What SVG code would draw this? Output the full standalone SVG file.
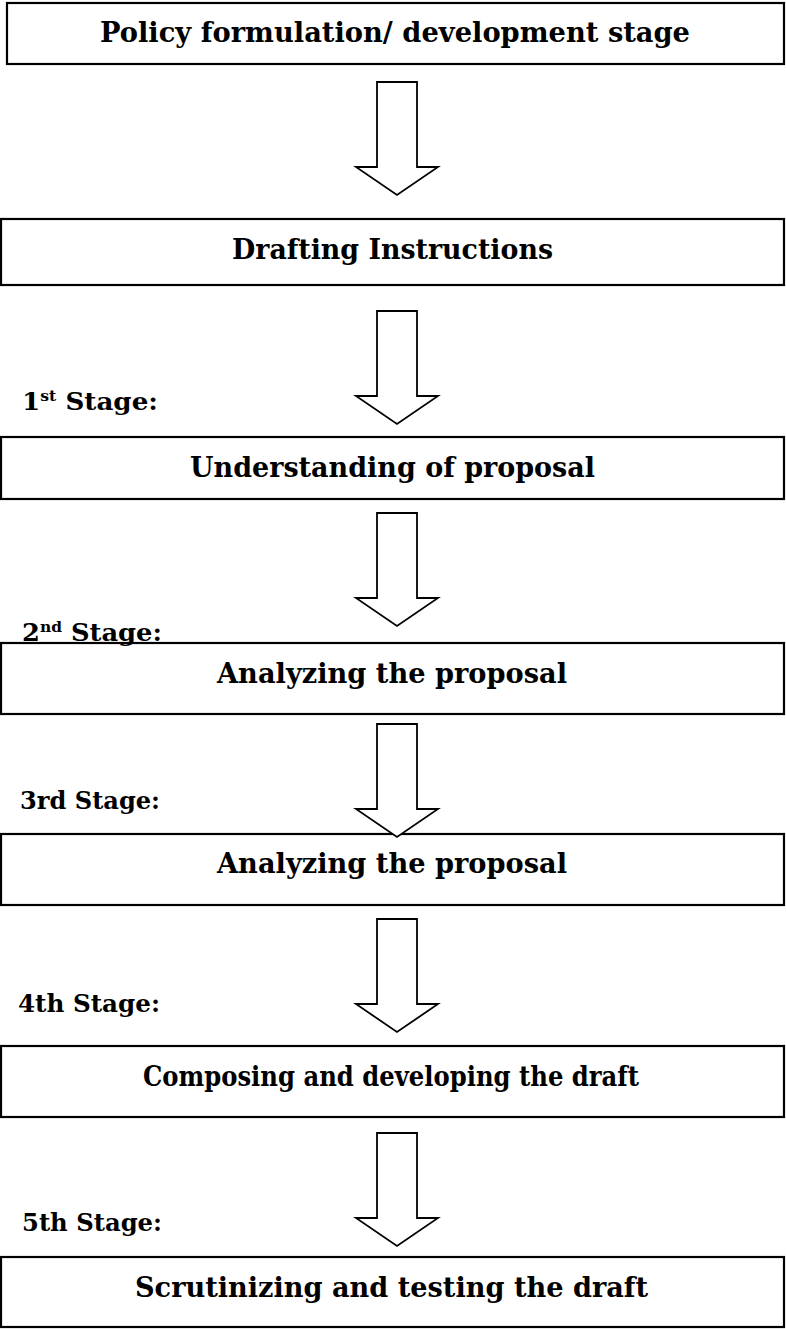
<svg xmlns="http://www.w3.org/2000/svg" width="786" height="1329" viewBox="0 0 786 1329">
<style>
.box{fill:#fff;stroke:#000;stroke-width:2.2}
.arr{fill:#fff;stroke:#000;stroke-width:1.8;stroke-linejoin:miter}
.t{font-family:"DejaVu Serif","Liberation Serif",serif;font-weight:bold;font-size:27px;fill:#000;text-anchor:middle}
.s{font-family:"DejaVu Serif","Liberation Serif",serif;font-weight:bold;font-size:25px;fill:#000}
.sup{font-size:15px}
</style>
<defs>
<polygon id="arrowShape" points="377,0 417,0 417,85 438,85 397,113 356,85 377,85"/>
</defs>
<rect width="786" height="1329" fill="#fff"/>
<g id="connectors">
<use href="#arrowShape" class="arr" transform="translate(0,82)"/>
<use href="#arrowShape" class="arr" transform="translate(0,311)"/>
<use href="#arrowShape" class="arr" transform="translate(0,513)"/>
<use href="#arrowShape" class="arr" transform="translate(0,919)"/>
<use href="#arrowShape" class="arr" transform="translate(0,1133)"/>
</g>
<g id="node1"><rect class="box" x="7" y="3" width="777" height="61"/><text class="t" x="395" y="42" textLength="590" lengthAdjust="spacingAndGlyphs">Policy formulation/ development stage</text></g>
<g id="node2"><rect class="box" x="1" y="219" width="783" height="66"/><text class="t" x="392.5" y="259" textLength="321" lengthAdjust="spacingAndGlyphs">Drafting Instructions</text></g>
<g id="node3"><rect class="box" x="1" y="437" width="783" height="62"/><text class="t" x="392.5" y="477" textLength="405" lengthAdjust="spacingAndGlyphs">Understanding of proposal</text></g>
<g id="node4"><rect class="box" x="1" y="643" width="783" height="71"/><text class="t" x="392" y="683" textLength="350" lengthAdjust="spacingAndGlyphs">Analyzing the proposal</text></g>
<g id="node5"><rect class="box" x="1" y="834" width="783" height="71"/><text class="t" x="392" y="873" textLength="350" lengthAdjust="spacingAndGlyphs">Analyzing the proposal</text></g>
<g id="node6"><rect class="box" x="1" y="1046" width="783" height="71"/><text class="t" x="391" y="1086" textLength="496" lengthAdjust="spacingAndGlyphs">Composing and developing the draft</text></g>
<g id="node7"><rect class="box" x="1" y="1257" width="783" height="70"/><text class="t" x="391.5" y="1297" textLength="513" lengthAdjust="spacingAndGlyphs">Scrutinizing and testing the draft</text></g>
<use href="#arrowShape" class="arr" transform="translate(0,724)"/>
<g id="labels">
<text class="s" x="22" y="410" textLength="136" lengthAdjust="spacingAndGlyphs">1<tspan class="sup" dy="-9">st</tspan><tspan dy="9"> Stage:</tspan></text>
<text class="s" x="22" y="641" textLength="140" lengthAdjust="spacingAndGlyphs">2<tspan class="sup" dy="-9">nd</tspan><tspan dy="9"> Stage:</tspan></text>
<text class="s" x="20" y="809" textLength="140" lengthAdjust="spacingAndGlyphs">3rd Stage:</text>
<text class="s" x="18" y="1012" textLength="142" lengthAdjust="spacingAndGlyphs">4th Stage:</text>
<text class="s" x="22" y="1231" textLength="140" lengthAdjust="spacingAndGlyphs">5th Stage:</text>
</g>
</svg>
